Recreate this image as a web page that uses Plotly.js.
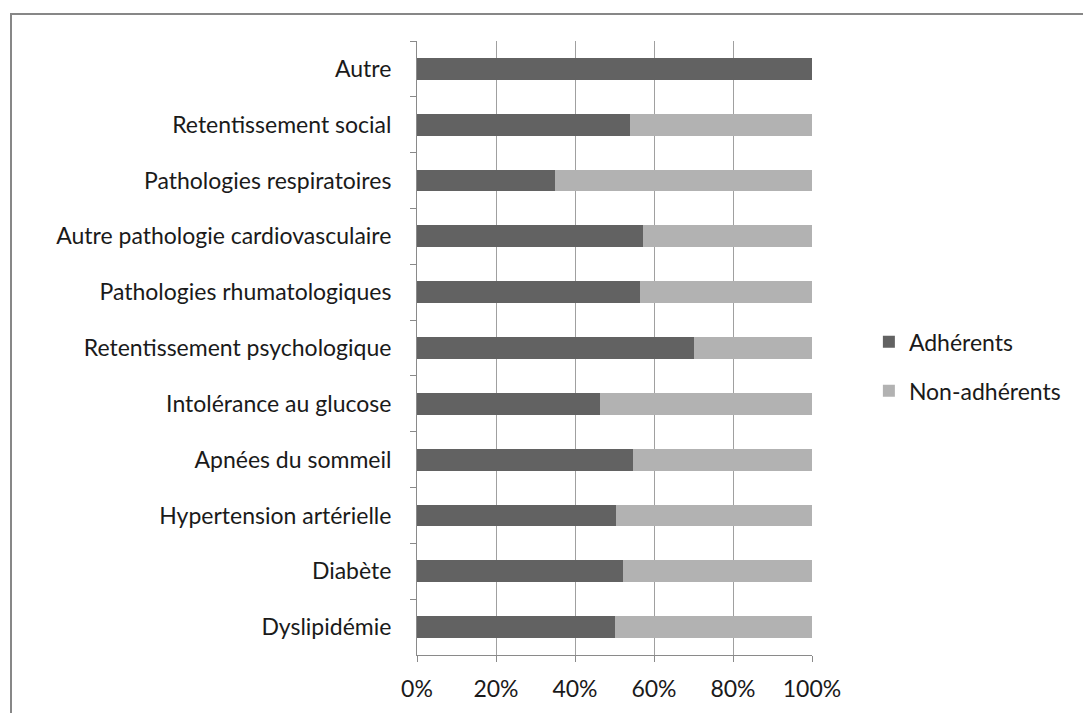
<!DOCTYPE html>
<html>
<head>
<meta charset="utf-8">
<script src="https://cdn.plot.ly/plotly-3.0.1.min.js"></script>
<style>
  html, body { margin: 0; padding: 0; background: #ffffff; }
  #wrap { position: relative; width: 1083px; height: 713px; overflow: hidden; }
  #chart { position: absolute; left: 0; top: 0; width: 1083px; height: 713px; }
  #frame { position: absolute; left: 10px; top: 13px; width: 1100px; height: 800px;
           border-top: 2px solid #878787; border-left: 2px solid #878787; pointer-events: none; }
</style>
</head>
<body>
<div id="wrap">
  <div id="chart"></div>
  <div id="frame"></div>
</div>
<script>
const categories = [
  "Autre",
  "Retentissement social",
  "Pathologies respiratoires",
  "Autre pathologie cardiovasculaire",
  "Pathologies rhumatologiques",
  "Retentissement psychologique",
  "Intolérance au glucose",
  "Apnées du sommeil",
  "Hypertension artérielle",
  "Diabète",
  "Dyslipidémie"
];
const adherents =     [100, 53.8, 34.9, 57.1, 56.4, 70.0, 46.3, 54.8, 50.5, 52.2, 50.2];
const nonAdherents =  [0,   46.2, 65.1, 42.9, 43.6, 30.0, 53.7, 45.2, 49.5, 47.8, 49.8];
const xTickVals = [0, 20, 40, 60, 80, 100];
const xTickText = ["0%", "20%", "40%", "60%", "80%", "100%"];

const FONT = "Lato, sans-serif";
const FS = 23;

const traces = [
  {
    type: "bar", orientation: "h", name: "Adhérents",
    y: categories, x: adherents, legendgroup: "a",
    marker: { color: "#626262", line: { width: 0 } },
    hoverinfo: "skip"
  },
  {
    type: "bar", orientation: "h", name: "Non-adhérents",
    y: categories, x: nonAdherents, legendgroup: "b",
    marker: { color: "#b2b2b2", line: { width: 0 } },
    hoverinfo: "skip"
  }
];

const layout = {
  width: 1083, height: 713,
  margin: { l: 417, r: 271, t: 41, b: 58, pad: 0 },
  paper_bgcolor: "#ffffff", plot_bgcolor: "#ffffff",
  barmode: "stack",
  bargap: 0.61,
  font: { family: FONT, size: FS, color: "#1a1a1a" },
  xaxis: {
    range: [0, 100], tickvals: xTickVals, ticktext: xTickText,
    showgrid: true, gridcolor: "#a0a0a0", gridwidth: 1,
    showline: true, linecolor: "#8a8a8a", linewidth: 1,
    ticks: "outside", ticklen: 6, tickcolor: "#8a8a8a",
    zeroline: false, fixedrange: true,
    ticklabelstandoff: 7,
    tickfont: { family: FONT, size: FS, color: "#1a1a1a" }
  },
  yaxis: {
    type: "category", autorange: "reversed",
    showline: true, linecolor: "#8a8a8a", linewidth: 1,
    ticks: "outside", ticklen: 6, tickcolor: "#8a8a8a",
    tickson: "boundaries",
    showgrid: false, zeroline: false, fixedrange: true,
    ticklabelstandoff: 20,
    tickfont: { family: FONT, size: FS, color: "#1a1a1a" }
  },
  legend: {
    x: 1.144, xanchor: "left", xref: "paper",
    y: 0.47, yanchor: "middle",
    traceorder: "grouped",
    tracegroupgap: 16,
    font: { family: FONT, size: FS, color: "#1a1a1a" },
    itemwidth: 30,
    bgcolor: "rgba(0,0,0,0)"
  },
  showlegend: true
};

Plotly.newPlot("chart", traces, layout, { displayModeBar: false, staticPlot: true });
</script>
</body>
</html>
